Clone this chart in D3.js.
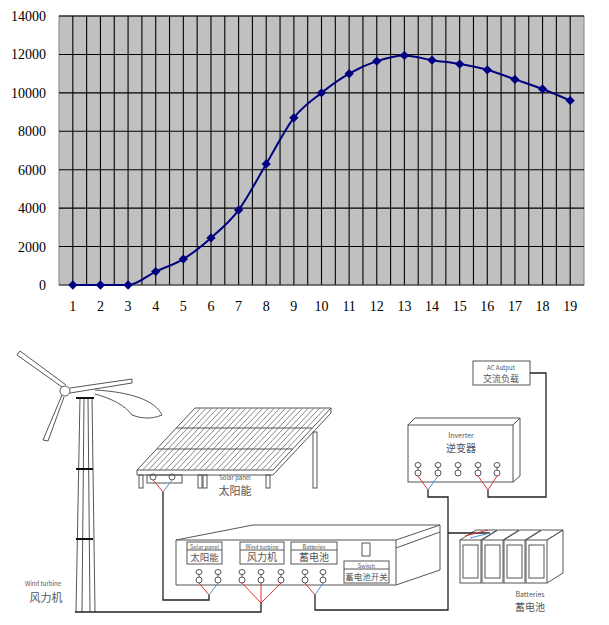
<!DOCTYPE html>
<html><head><meta charset="utf-8">
<script src="https://cdn.jsdelivr.net/npm/d3@7/dist/d3.min.js"></script>
<style>body{margin:0;background:#fff}svg{display:block}</style>
</head><body><svg id="c" width="609" height="625"></svg>
<script>
const categories = d3.range(1,20).map(String);
const values = [0,0,0,700,1350,2450,3900,6300,8700,10000,11000,11650,11950,11700,11500,11200,10700,10200,9600];
const yTicks = [0,2000,4000,6000,8000,10000,12000,14000];

const svg = d3.select("#c");
const L=59,R=584,T=16,B=285;
const x = d3.scaleBand().domain(categories).range([L,R]);
const y = d3.scaleLinear().domain([0,14000]).range([B,T]);
const g = svg.append("g");
g.append("rect").attr("x",L).attr("y",T).attr("width",R-L).attr("height",B-T).attr("fill","#c0c0c0").attr("stroke","#808080");
const vx=[];
categories.forEach(c=>{vx.push(x(c));vx.push(x(c)+x.bandwidth()/2);});
vx.push(R);
g.selectAll(".vg").data(vx.slice(1,-1)).join("line").attr("x1",d=>d).attr("x2",d=>d).attr("y1",T).attr("y2",B).attr("stroke","#000").attr("stroke-width",1.1);
g.selectAll(".hg").data(yTicks.slice(1)).join("line").attr("x1",L).attr("x2",R).attr("y1",d=>y(d)).attr("y2",d=>y(d)).attr("stroke","#000").attr("stroke-width",1.1);
g.append("line").attr("x1",L).attr("x2",R).attr("y1",B).attr("y2",B).attr("stroke","#333");
const fnt="'Liberation Serif','DejaVu Serif',serif";
g.selectAll(".yt").data(yTicks).join("text").attr("x",46).attr("y",d=>y(d)+5).attr("text-anchor","end").attr("font-family",fnt).attr("font-size",14).text(d=>d);
g.selectAll(".xt").data(categories).join("text").attr("x",d=>x(d)+x.bandwidth()/2).attr("y",311).attr("text-anchor","middle").attr("font-family",fnt).attr("font-size",14).text(d=>d);
const line=d3.line().x((d,i)=>x(categories[i])+x.bandwidth()/2).y(d=>y(d)).curve(d3.curveMonotoneX);
g.append("path").attr("d",line(values)).attr("fill","none").attr("stroke","#000080").attr("stroke-width",2);
g.selectAll(".pt").data(values).join("path").attr("transform",(d,i)=>`translate(${x(categories[i])+x.bandwidth()/2},${y(d)})`).attr("d",d3.symbol(d3.symbolDiamond2,55)).attr("fill","#000080");

// ---- diagram ----
const D=svg.append("g").attr("fill","none").attr("stroke","#555").attr("stroke-width",1);
const p=(pts)=>D.append("path").attr("d","M"+pts.map(a=>a.join(",")).join("L"));
const T2=(tx,ty,s,sz,anchor)=>svg.append("text").attr("x",tx).attr("y",ty).attr("font-size",sz).attr("text-anchor",anchor||"middle").attr("fill","#555").attr("font-family","'Noto Sans CJK SC',sans-serif").text(s);
p([[80,397],[76,612]]);p([[84,397],[82,612]]);p([[88,397],[90,612]]);p([[92,397],[95,612]]);
[469,539].forEach(yy=>D.append("line").attr("x1",76).attr("x2",93).attr("y1",yy).attr("y2",yy).attr("stroke","#111").attr("stroke-width",2));
D.append("line").attr("x1",76).attr("x2",94).attr("y1",398).attr("y2",398).attr("stroke","#111").attr("stroke-width",2);
D.append("circle").attr("cx",65).attr("cy",391).attr("r",5);
p([[62,387],[17,355],[20,351],[66,385]]);
p([[62,395],[43,440],[48,441],[64,397]]);
p([[70,388],[132,379],[132,383],[70,393]]);
D.append("path").attr("d","M95,390 C130,392 155,400 162,415 C150,420 140,418 132,415 C125,405 110,398 95,394");
T2(43,586,"Wind turbine",6);T2(46,602,"风力机",11);
p([[195,408],[331,408],[273,470],[137,470],[195,408]]);
p([[137,470],[137,475],[273,475],[331,413],[331,408]]);
for(let i=1;i<24;i++){const t=i/24;D.append("line").attr("x1",195+136*t).attr("y1",408).attr("x2",137+136*t).attr("y2",470).attr("stroke","#888");}
[428,449].forEach(yy=>{const t=(yy-408)/62;D.append("line").attr("x1",195-58*t).attr("x2",331-58*t).attr("y1",yy).attr("y2",yy);});
[[139,475,488],[198,475,488],[203,475,488],[266,475,488],[313,432,488]].forEach(a=>D.append("rect").attr("x",a[0]).attr("y",a[1]).attr("width",4).attr("height",a[2]-a[1]));
D.append("rect").attr("x",147).attr("y",475).attr("width",35).attr("height",8);
T2(235,480,"Solar panel",6);T2(235,495,"太阳能",11);
p([[176,540],[253,525],[440,525],[396,540],[176,540]]);
p([[176,540],[176,585],[396,585],[440,570],[440,525]]);p([[396,540],[396,585]]);
p([[396,548],[440,532]]);
const lab=[[187,542,35,"Solar panel","太阳能",9.5],[240,542,44,"Wind turbine","风力机",10],[291,542,46,"Batteries","蓄电池",10],[344,561,45,"Switch","蓄电池开关",8.5]];
lab.forEach(a=>{D.append("rect").attr("x",a[0]).attr("y",a[1]).attr("width",a[2]).attr("height",22);D.append("line").attr("x1",a[0]).attr("x2",a[0]+a[2]).attr("y1",a[1]+8).attr("y2",a[1]+8);T2(a[0]+a[2]/2,a[1]+6.5,a[3],5.5);T2(a[0]+a[2]/2,a[1]+19,a[4],a[5]);});
D.append("rect").attr("x",362).attr("y",543).attr("width",8).attr("height",13);
const term=(tx,ty)=>{D.append("ellipse").attr("cx",tx).attr("cy",ty).attr("rx",3).attr("ry",2.5);D.append("circle").attr("cx",tx).attr("cy",ty+8).attr("r",3);D.append("line").attr("x1",tx).attr("x2",tx).attr("y1",ty+2).attr("y2",ty+5);};
const wire=(x1,y1,x2,y2,c)=>svg.append("line").attr("x1",x1).attr("y1",y1).attr("x2",x2).attr("y2",y2).attr("stroke",c).attr("stroke-width",1);
[199,218,242,261,281,305,323].forEach(t=>term(t,572));
[418,438,458,478,497].forEach(t=>term(t,465));
D.append("circle").attr("cx",153).attr("cy",477).attr("r",3);D.append("circle").attr("cx",172).attr("cy",477).attr("r",3);
const red="#e03030",blue="#4a90d9";
wire(153,480,163,492,red);wire(172,480,163,492,blue);
wire(199,583,209,595,red);wire(218,583,209,595,blue);
wire(242,583,261,603,red);wire(261,583,261,603,red);wire(281,583,261,603,red);
wire(305,583,315,595,red);wire(323,583,315,595,blue);
wire(418,476,428,490,red);wire(438,476,428,490,blue);
wire(478,476,488,490,red);wire(497,476,488,490,red);
const K=(pts)=>svg.append("path").attr("d","M"+pts.map(a=>a.join(",")).join("L")).attr("fill","none").attr("stroke","#222").attr("stroke-width",1.3);
K([[163,492],[163,600],[209,600],[209,595]]);
K([[75,612],[261,612],[261,603]]);
K([[315,595],[315,610],[448,610],[448,497],[428,497],[428,490]]);
K([[448,533],[490,533]]);
K([[488,490],[488,497],[546,497],[546,373],[530,373]]);
D.append("rect").attr("x",408).attr("y",425).attr("width",105).attr("height",57);
p([[408,425],[415,418],[520,418],[513,425]]);p([[520,418],[520,476],[513,482]]);
T2(461,438,"Inverter",7);T2(461,452,"逆变器",10);
D.append("rect").attr("x",473).attr("y",361).attr("width",57).attr("height",24);
T2(501,370,"AC Autput",6);T2(501,382,"交流负载",9);
[460,482,504,526].forEach(bx=>{D.append("rect").attr("x",bx).attr("y",540).attr("width",21).attr("height",43);D.append("rect").attr("x",bx+3).attr("y",545).attr("width",15).attr("height",33);p([[bx,540],[bx+16,530],[bx+37,530],[bx+21,540]]);});
p([[547,583],[563,573],[563,530],[547,540]]);
wire(465,536,488,530,red);wire(470,538,490,533,blue);
T2(530,597,"Batteries",7);T2(530,611,"蓄电池",10);
</script></body></html>
